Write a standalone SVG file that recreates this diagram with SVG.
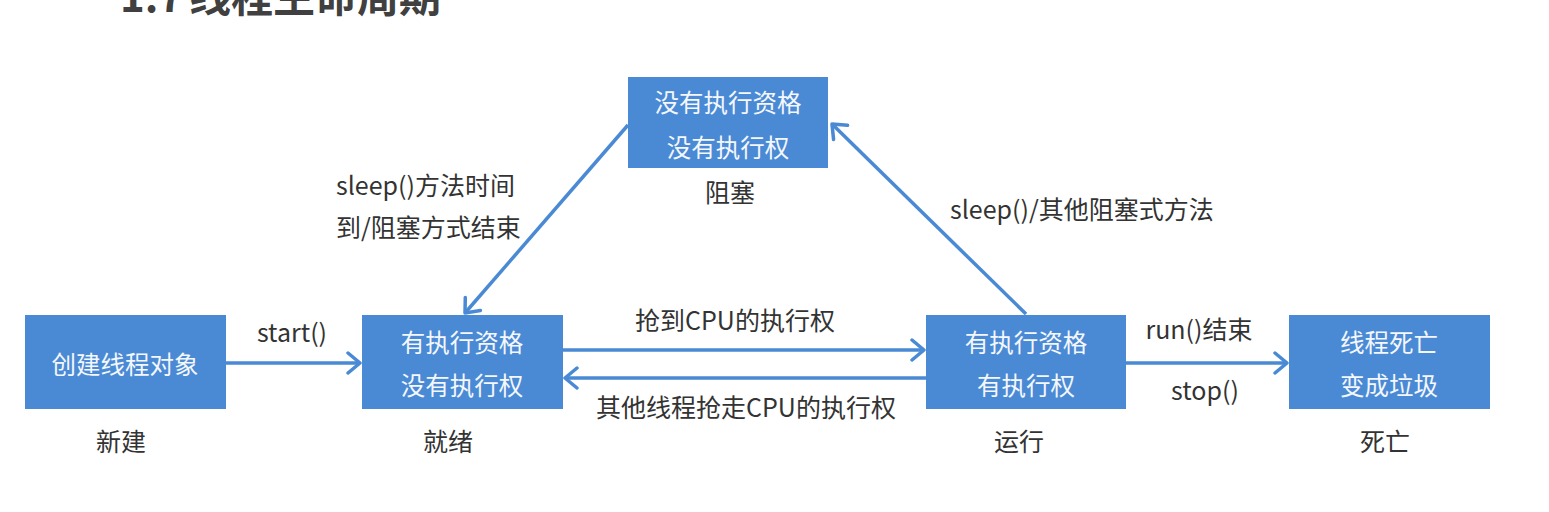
<svg xmlns="http://www.w3.org/2000/svg" width="1549" height="512" viewBox="0 0 1549 512">
<style>
.box{fill:#4A8AD5;}
.bt{font-family:"Noto Sans CJK SC","Microsoft YaHei",sans-serif;font-size:24.5px;fill:#F4F7FB;text-anchor:middle;}
.lb{font-family:"Noto Sans CJK SC","Microsoft YaHei",sans-serif;font-size:25px;fill:#333;}
.c{text-anchor:middle;}
.ln{stroke:#4A8AD5;stroke-width:3.5;fill:none;marker-end:url(#ah);}
</style>
<defs>
<marker id="ah" markerUnits="userSpaceOnUse" markerWidth="24" markerHeight="24" refX="17" refY="12" orient="auto" viewBox="0 0 24 24">
<path d="M5,2 L17,12 L5,22" fill="none" stroke="#4A8AD5" stroke-width="3.5" stroke-linecap="round" stroke-linejoin="round"/>
</marker>
</defs>
<rect width="1549" height="512" fill="#fff"/>
<text y="12" style="font-family:'Noto Sans CJK SC',sans-serif;font-size:42px;font-weight:bold;fill:#404040"><tspan x="120">1.7</tspan><tspan x="189">线程生命周期</tspan></text>
<g id="connectors">
<line class="ln" x1="226" y1="363" x2="360" y2="363"/>
<line class="ln" x1="563" y1="350" x2="924" y2="350"/>
<line class="ln" x1="926" y1="378" x2="565" y2="378"/>
<line class="ln" x1="1126" y1="363" x2="1287" y2="363"/>
<line class="ln" x1="628" y1="125" x2="465" y2="313"/>
<line class="ln" x1="1026" y1="314" x2="832" y2="124"/>
<text class="lb c" x="292" y="342">start()</text>
<text class="lb c" x="735" y="330">抢到CPU的执行权</text>
<text class="lb c" x="746" y="417">其他线程抢走CPU的执行权</text>
<text class="lb c" x="1199" y="339">run()结束</text>
<text class="lb c" x="1205" y="400">stop()</text>
<text class="lb" x="336" y="195">sleep()方法时间</text>
<text class="lb" x="336" y="237">到/阻塞方式结束</text>
<text class="lb" x="950" y="219">sleep()/其他阻塞式方法</text>
</g>
<g id="new">
<rect class="box" x="25" y="315" width="201" height="94"/>
<text class="bt" x="125" y="374">创建线程对象</text>
<text class="lb c" x="121" y="451">新建</text>
</g>
<g id="ready">
<rect class="box" x="362" y="315" width="201" height="94"/>
<text class="bt" x="462" y="352">有执行资格</text>
<text class="bt" x="462" y="395">没有执行权</text>
<text class="lb c" x="448" y="451">就绪</text>
</g>
<g id="running">
<rect class="box" x="926" y="315" width="200" height="94"/>
<text class="bt" x="1026" y="352">有执行资格</text>
<text class="bt" x="1026" y="395">有执行权</text>
<text class="lb c" x="1019" y="451">运行</text>
</g>
<g id="dead">
<rect class="box" x="1289" y="315" width="201" height="94"/>
<text class="bt" x="1389" y="352">线程死亡</text>
<text class="bt" x="1389" y="395">变成垃圾</text>
<text class="lb c" x="1385" y="451">死亡</text>
</g>
<g id="blocked">
<rect class="box" x="628" y="77" width="200" height="91"/>
<text class="bt" x="728" y="112">没有执行资格</text>
<text class="bt" x="728" y="157">没有执行权</text>
<text class="lb c" x="730" y="202">阻塞</text>
</g>
</svg>
